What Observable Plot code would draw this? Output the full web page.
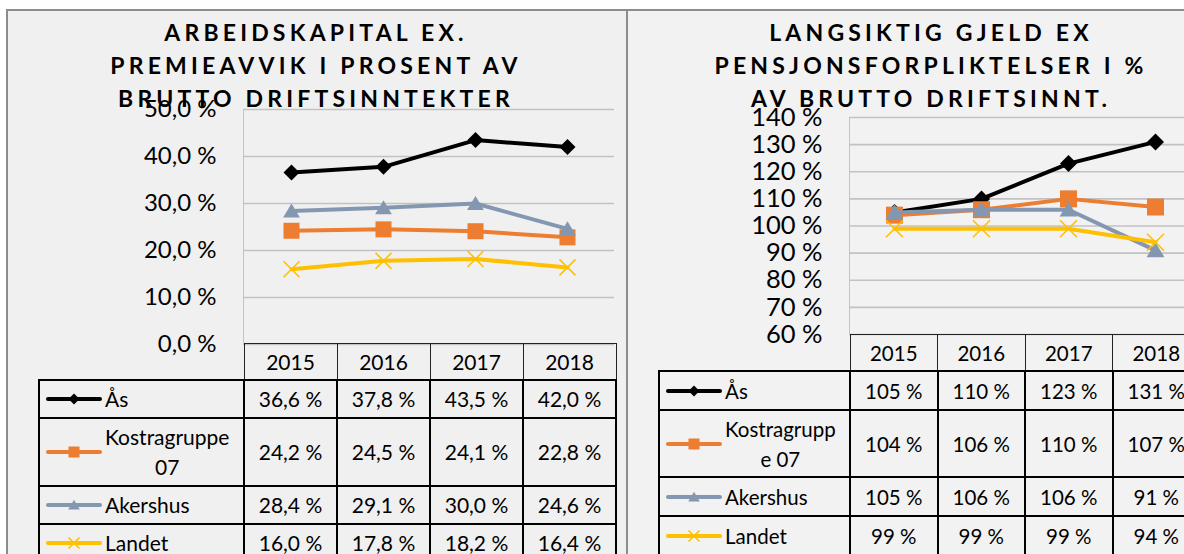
<!DOCTYPE html>
<html><head><meta charset="utf-8">
<script src="https://cdn.jsdelivr.net/npm/d3@7"></script>
<script src="https://cdn.jsdelivr.net/npm/@observablehq/plot@0.6"></script>
<style>
html,body{margin:0;padding:0;background:#fff;}
#page{position:relative;width:1184px;height:554px;overflow:hidden;font-family:Lato,"Open Sans",sans-serif;color:#000;}
.panel{position:absolute;box-sizing:border-box;border:2px solid #8c8c8c;}
.title{position:absolute;font-weight:700;font-size:23px;letter-spacing:4.2px;line-height:33px;text-align:center;white-space:nowrap;transform:translateX(-50%);}
.chart{position:absolute;top:0;}
.frameLeft{position:absolute;width:1.5px;background:#c4c4c4;}
table{position:absolute;border-collapse:collapse;table-layout:fixed;font-size:21px;}
td{border:2px solid #000;text-align:center;padding:0;line-height:24px;}
td.blank{border:none;}
td.hdr{border:1.5px solid #222;}
td.leg{text-align:left;}
.legwrap{display:flex;align-items:center;padding-left:6px;}
.leglab{display:inline-block;text-align:center;white-space:pre-line;margin-left:3px;line-height:30px;}
</style></head>
<body><div id="page"></div>
<script>
// ---------- data ----------
const years = ["2015","2016","2017","2018"];
const series = ["Ås","Kostragruppe 07","Akershus","Landet"];
const seriesColors = ["#000000","#ED7D31","#8497B0","#FFC000"];
const seriesMarkers = ["diamond","square","triangle","x"];

const arbAas      = [36.6, 37.8, 43.5, 42.0];
const arbKostra   = [24.2, 24.5, 24.1, 22.8];
const arbAkershus = [28.4, 29.1, 30.0, 24.6];
const arbLandet   = [16.0, 17.8, 18.2, 16.4];

const gjeldAas      = [105, 110, 123, 131];
const gjeldKostra   = [104, 106, 110, 107];
const gjeldAkershus = [105, 106, 106, 91];
const gjeldLandet   = [99, 99, 99, 94];

const leftTitle  = ["ARBEIDSKAPITAL EX.", "PREMIEAVVIK I PROSENT AV", "BRUTTO DRIFTSINNTEKTER"];
const rightTitle = ["LANGSIKTIG GJELD EX", "PENSJONSFORPLIKTELSER I %", "AV BRUTTO DRIFTSINNT."];
const leftTicks  = [0, 10, 20, 30, 40, 50];
const rightTicks = [60, 70, 80, 90, 100, 110, 120, 130, 140];
const leftLegendLabels  = ["Ås", "Kostragruppe\n07", "Akershus", "Landet"];
const rightLegendLabels = ["Ås", "Kostragrupp\ne 07", "Akershus", "Landet"];

// ---------- helpers ----------
const page = document.getElementById("page");
function sym(kind){
  return {draw(ctx, size){
    const r = Math.sqrt(size / Math.PI);
    if (kind === "diamond") { ctx.moveTo(0,-r); ctx.lineTo(r,0); ctx.lineTo(0,r); ctx.lineTo(-r,0); ctx.closePath(); }
    else if (kind === "square") { ctx.rect(-r,-r,2*r,2*r); }
    else if (kind === "triangle") { ctx.moveTo(0,-r*0.95); ctx.lineTo(r*1.05,r*0.8); ctx.lineTo(-r*1.05,r*0.8); ctx.closePath(); }
    else { ctx.moveTo(-r,-r); ctx.lineTo(r,r); ctx.moveTo(r,-r); ctx.lineTo(-r,r); }
  }};
}
function rowsFor(vals){
  return series.flatMap((s,i) => years.map((y,j) => ({series:s, year:y, value:vals[i][j]})));
}
function seriesMarks(rows, r){
  const marks = [];
  series.forEach((s,i) => {
    const d = rows.filter(q => q.series === s);
    marks.push(Plot.line(d, {x:"year", y:"value", stroke:seriesColors[i], strokeWidth:4, strokeLinejoin:"round", strokeLinecap:"round"}));
    const isX = seriesMarkers[i] === "x";
    marks.push(Plot.dot(d, {x:"year", y:"value", r: r, symbol: sym(seriesMarkers[i]),
      fill: isX ? "none" : seriesColors[i], stroke: isX ? seriesColors[i] : "none", strokeWidth: isX ? 1.6 : 0}));
  });
  return marks;
}
function addDiv(cls, style, html){
  const d = document.createElement("div"); d.className = cls;
  Object.assign(d.style, style); if (html != null) d.innerHTML = html;
  page.appendChild(d); return d;
}
function legendKey(i){
  const svg = d3.create("svg").attr("width",56).attr("height",20).style("display","block").style("flex","none");
  svg.append("line").attr("x1",2).attr("x2",54).attr("y1",10).attr("y2",10)
    .attr("stroke",seriesColors[i]).attr("stroke-width",4).attr("stroke-linecap","round");
  const p = d3.path(); sym(seriesMarkers[i]).draw(p, 5.5*5.5*Math.PI);
  const isX = seriesMarkers[i] === "x";
  svg.append("path").attr("transform","translate(28,10)").attr("d", p.toString())
    .attr("fill", isX ? "none" : seriesColors[i]).attr("stroke", isX ? seriesColors[i] : "none").attr("stroke-width", 1.6);
  return svg.node();
}
function buildTable(cfg){
  const t = document.createElement("table");
  Object.assign(t.style, {left: cfg.left+"px", top: cfg.top+"px", width: (cfg.legW + 4*cfg.colW)+"px", fontSize: cfg.fontSize});
  const cg = document.createElement("colgroup");
  [cfg.legW, cfg.colW, cfg.colW, cfg.colW, cfg.colW].forEach(w => { const c = document.createElement("col"); c.style.width = w+"px"; cg.appendChild(c); });
  t.appendChild(cg);
  const hr = document.createElement("tr");
  const b = document.createElement("td"); b.className = "blank"; hr.appendChild(b);
  years.forEach(y => { const td = document.createElement("td"); td.className = "hdr"; td.textContent = y; td.style.height = cfg.rowH[0]+"px"; hr.appendChild(td); });
  t.appendChild(hr);
  series.forEach((s,i) => {
    const tr = document.createElement("tr");
    const lc = document.createElement("td"); lc.className = "leg"; lc.style.height = cfg.rowH[i+1]+"px";
    const w = document.createElement("div"); w.className = "legwrap";
    w.appendChild(legendKey(i));
    const lab = document.createElement("span"); lab.className = "leglab"; lab.textContent = cfg.labels[i];
    w.appendChild(lab); lc.appendChild(w); tr.appendChild(lc);
    cfg.vals[i].forEach(v => { const td = document.createElement("td"); td.textContent = cfg.fmt(v); tr.appendChild(td); });
    t.appendChild(tr);
  });
  page.appendChild(t);
}

// ---------- panels ----------
addDiv("panel", {left:"6px", top:"9px", width:"622px", height:"600px", background:"#f0f0f0"});
addDiv("panel", {left:"626px", top:"9px", width:"700px", height:"600px", background:"#f2f2f2"});

// ---------- left chart ----------
const fmtLeft = d => d.toFixed(1).replace(".", ",") + " %";
const leftVals = [arbAas, arbKostra, arbAkershus, arbLandet];
addDiv("frameLeft", {left:"242.5px", top:"109px", height:"235px"});
const leftPlot = Plot.plot({
  width: 620, height: 554,
  marginLeft: 243, marginRight: 6, marginTop: 109, marginBottom: 210,
  style: {background:"transparent", fontFamily:"Lato, sans-serif", fontSize:"24px", color:"#000", overflow:"visible"},
  x: {type:"point", domain: years, padding: 0.5, axis: null},
  y: {domain:[0,50], ticks: leftTicks, tickFormat: fmtLeft, tickSize: 0, tickPadding: 27, label: null},
  marks: [
    Plot.ruleY(leftTicks, {stroke:"#c2c2c2", strokeWidth:1.6}),
    ...seriesMarks(rowsFor(leftVals), 8)
  ]
});
leftPlot.classList.add("chart"); leftPlot.style.left = "0px";
page.appendChild(leftPlot);

// ---------- right chart ----------
const fmtRight = d => d + " %";
const rightVals = [gjeldAas, gjeldKostra, gjeldAkershus, gjeldLandet];
addDiv("frameLeft", {left:"848.5px", top:"117px", height:"217px"});
const rightPlot = Plot.plot({
  width: 580, height: 554,
  marginLeft: 229, marginRight: 0, marginTop: 117, marginBottom: 220,
  style: {background:"transparent", fontFamily:"Lato, sans-serif", fontSize:"25.5px", color:"#000", overflow:"visible"},
  x: {type:"point", domain: years, padding: 0.5, axis: null},
  y: {domain:[60,140], ticks: rightTicks, tickFormat: fmtRight, tickSize: 0, tickPadding: 27, label: null},
  marks: [
    Plot.ruleY(rightTicks, {stroke:"#c2c2c2", strokeWidth:1.6}),
    ...seriesMarks(rowsFor(rightVals), 8.5)
  ]
});
rightPlot.classList.add("chart"); rightPlot.style.left = "620px";
page.appendChild(rightPlot);

// ---------- tables ----------
buildTable({left:38, top:343, legW:205, colW:93, rowH:[35,36,66,36,36], labels:leftLegendLabels, vals:leftVals, fmt:fmtLeft, fontSize:"21px"});
buildTable({left:658, top:334, legW:191, colW:87.5, rowH:[35,37,65,37,37], labels:rightLegendLabels, vals:rightVals, fmt:fmtRight, fontSize:"20.5px"});

// ---------- titles ----------
addDiv("title", {left:"316px", top:"16px"}, leftTitle.join("<br>"));
addDiv("title", {left:"931px", top:"16px"}, rightTitle.join("<br>"));
</script></body></html>
